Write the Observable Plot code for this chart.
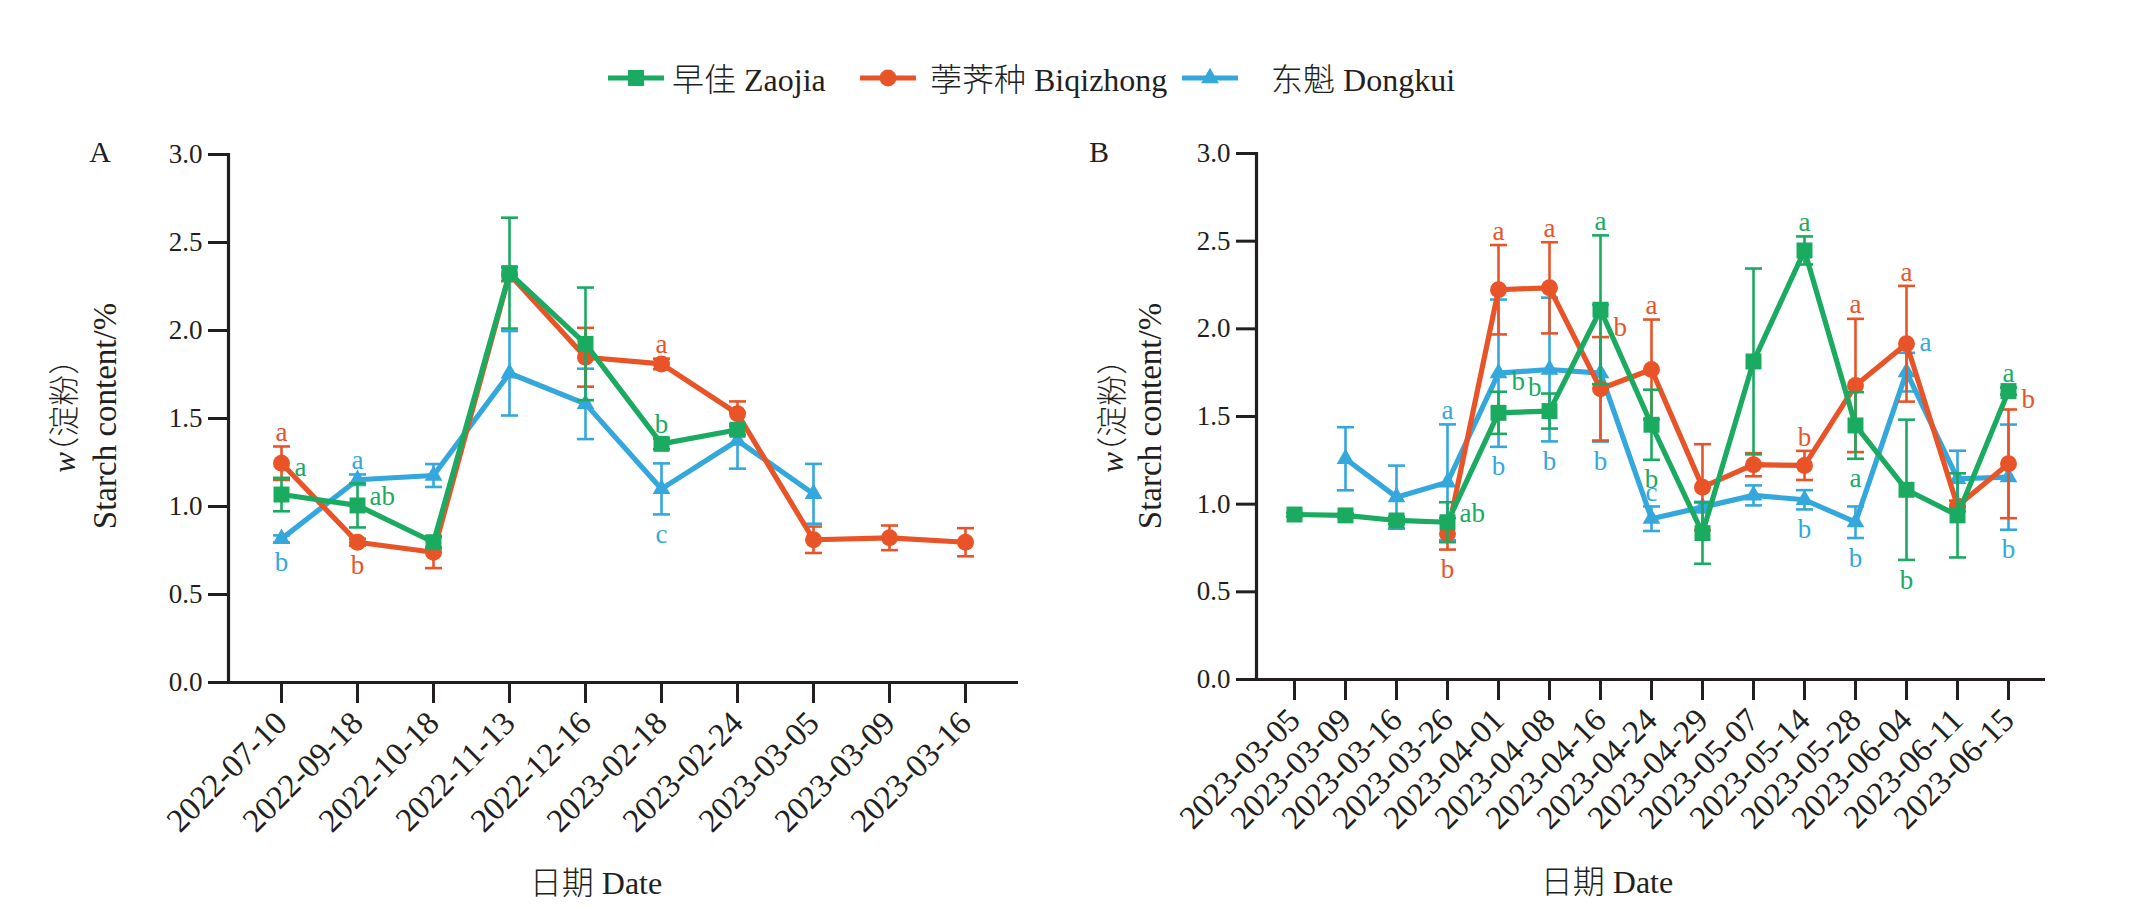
<!DOCTYPE html>
<html><head><meta charset="utf-8">
<script src="https://cdn.jsdelivr.net/npm/d3@7"></script>
<script src="https://cdn.jsdelivr.net/npm/@observablehq/plot@0.6"></script>
<style>
body{margin:0;background:#fff;}
#root{position:relative;width:2133px;height:907px;overflow:hidden;font-family:"Liberation Serif","Noto Sans CJK SC",serif;color:#231f20;}
.abs{position:absolute;white-space:nowrap;line-height:1;font-family:"Liberation Serif","Noto Sans CJK SC",serif;}
.vert{writing-mode:vertical-rl;text-orientation:sideways;transform:translate(-50%,-50%) rotate(180deg);}
.ctr{transform:translate(-50%,-50%);}
.cjk{font-family:"Noto Sans CJK SC",sans-serif;font-weight:300;}
.halt{font-feature-settings:"halt" 1;}
#root svg{position:absolute;top:0;overflow:visible;}
</style></head><body><div id="root"></div>
<script>
// ---------- data ----------
const datesA = ["2022-07-10","2022-09-18","2022-10-18","2022-11-13","2022-12-16","2023-02-18","2023-02-24","2023-03-05","2023-03-09","2023-03-16"];
const zaojiaA    = [1.068, 1.006, 0.797, 2.326, 1.924, 1.356, 1.436, null, null, null];
const zaojiaErrA = [0.095, 0.125, 0.03, 0.315, 0.32, 0.03, 0.03, null, null, null];
const biqiA      = [1.246, 0.797, 0.74, 2.32, 1.848, 1.81, 1.527, 0.811, 0.822, 0.797];
const biqiErrA   = [0.095, 0.02, 0.09, 0.04, 0.167, 0.03, 0.07, 0.075, 0.07, 0.08];
const dongA      = [0.816, 1.152, 1.176, 1.757, 1.583, 1.10, 1.375, 1.072, null, null];
const dongErrA   = [0.02, 0.03, 0.065, 0.24, 0.20, 0.145, 0.16, 0.17, null, null];

const datesB = ["2023-03-05","2023-03-09","2023-03-16","2023-03-26","2023-04-01","2023-04-08","2023-04-16","2023-04-24","2023-04-29","2023-05-07","2023-05-14","2023-05-28","2023-06-04","2023-06-11","2023-06-15"];
const zaojiaB    = [0.941, 0.936, 0.907, 0.897, 1.521, 1.531, 2.109, 1.453, 0.835, 1.814, 2.447, 1.449, 1.082, 0.936, 1.645];
const zaojiaErrB = [0.01, 0.01, 0.02, 0.114, 0.12, 0.10, 0.424, 0.20, 0.175, 0.53, 0.08, 0.19, 0.40, 0.24, 0.02];
const biqiB      = [null, null, null, 0.831, 2.223, 2.234, 1.658, 1.768, 1.097, 1.225, 1.221, 1.677, 1.915, 0.99, 1.23];
const biqiErrB   = [null, null, null, 0.09, 0.255, 0.26, 0.295, 0.285, 0.245, 0.066, 0.083, 0.38, 0.33, 0.03, 0.31];
const dongB      = [null, 1.259, 1.04, 1.125, 1.747, 1.768, 1.747, 0.917, 0.983, 1.05, 1.025, 0.897, 1.753, 1.145, 1.154];
const dongErrB   = [null, 0.18, 0.18, 0.33, 0.42, 0.41, 0.39, 0.07, 0.03, 0.057, 0.055, 0.09, 0.11, 0.16, 0.30];

// significance letters: [date, variety, letter, placement]
const lettersA = [
  ["2022-07-10","Biqizhong","a","top"],["2022-07-10","Zaojia","a","upright"],["2022-07-10","Dongkui","b","bottom"],
  ["2022-09-18","Dongkui","a","top"],["2022-09-18","Zaojia","ab","right"],["2022-09-18","Biqizhong","b","bottom"],
  ["2023-02-18","Biqizhong","a","top"],["2023-02-18","Zaojia","b","top"],["2023-02-18","Dongkui","c","bottom"]
];
const lettersB = [
  ["2023-03-26","Dongkui","a","top"],["2023-03-26","Zaojia","ab","right"],["2023-03-26","Biqizhong","b","bottom"],
  ["2023-04-01","Biqizhong","a","top"],["2023-04-01","Zaojia","b","upright"],["2023-04-01","Dongkui","b","bottom"],
  ["2023-04-08","Biqizhong","a","top"],["2023-04-08","Zaojia","b","upleft"],["2023-04-08","Dongkui","b","bottom"],
  ["2023-04-16","Zaojia","a","top"],["2023-04-16","Biqizhong","b","upright"],["2023-04-16","Dongkui","b","bottom"],
  ["2023-04-24","Biqizhong","a","top"],["2023-04-24","Dongkui","c","top"],["2023-04-24","Zaojia","b","bottom"],
  ["2023-05-14","Zaojia","a","top"],["2023-05-14","Biqizhong","b","top"],["2023-05-14","Dongkui","b","bottom"],
  ["2023-05-28","Biqizhong","a","top"],["2023-05-28","Zaojia","a","bottom"],["2023-05-28","Dongkui","b","bottom"],
  ["2023-06-04","Biqizhong","a","top"],["2023-06-04","Dongkui","a","upright"],["2023-06-04","Zaojia","b","bottom"],
  ["2023-06-15","Zaojia","a","top"],["2023-06-15","Biqizhong","b","upright"],["2023-06-15","Dongkui","b","bottom"]
];

const varieties = ["Zaojia","Biqizhong","Dongkui"];
const legendNames = ["早佳 Zaojia","荸荠种 Biqizhong","东魁 Dongkui"];
const colors = {Zaojia:"#1aaa60", Biqizhong:"#e85428", Dongkui:"#34a8dc"};
const symbols = {Zaojia:"square", Biqizhong:"circle", Dongkui:"triangle"};
const radii = {Zaojia:9, Biqizhong:8.5, Dongkui:6.6};
const yTicks = [0, 0.5, 1.0, 1.5, 2.0, 2.5, 3.0];
const FONT = '"Liberation Serif","Noto Sans CJK SC",serif';
const INK = "#231f20";

// ---------- helpers ----------
const cap = {draw(ctx, size){ const w = Math.sqrt(size/Math.PI); ctx.moveTo(-w,0); ctx.lineTo(w,0); }};

function rowsFor(dates, vals, errs, variety){
  return dates.map((d,i)=>({date:d, variety, v:vals[i], e:errs[i]})).filter(r=>r.v!=null);
}

function panel(dates, table, letters, W, ml, mr, mt, mb){
  const marks = [];
  for (const k of ["Dongkui","Biqizhong","Zaojia"]) {
    const d = table[k]; const c = colors[k];
    marks.push(Plot.ruleX(d, {x:"date", y1:r=>r.v-r.e, y2:r=>r.v+r.e, stroke:c, strokeWidth:2.6}));
    marks.push(Plot.dot(d, {x:"date", y:r=>r.v+r.e, symbol:cap, r:8.5, stroke:c, strokeWidth:2.6, fill:"none"}));
    marks.push(Plot.dot(d, {x:"date", y:r=>r.v-r.e, symbol:cap, r:8.5, stroke:c, strokeWidth:2.6, fill:"none"}));
    marks.push(Plot.line(d, {x:"date", y:"v", stroke:c, strokeWidth:5.2}));
    marks.push(Plot.dot(d, {x:"date", y:"v", symbol:symbols[k], r:radii[k], fill:c, stroke:"none"}));
  }
  const lookup = {};
  for (const k of varieties) for (const r of table[k]) lookup[r.date+"|"+k] = r;
  const place = {
    top:{y:r=>r.v+r.e, dx:0, dy:-14, anchor:"middle"},
    bottom:{y:r=>r.v-r.e, dx:0, dy:20, anchor:"middle"},
    right:{y:r=>r.v, dx:12, dy:-9, anchor:"start"},
    upright:{y:r=>r.v+r.e, dx:13, dy:-10, anchor:"start"},
    upleft:{y:r=>r.v+r.e, dx:-8, dy:-6, anchor:"end"}
  };
  for (const p of Object.keys(place)) for (const k of varieties) {
    const L = letters.filter(l=>l[3]===p && l[1]===k).map(l=>({...lookup[l[0]+"|"+k], t:l[2]}));
    if (!L.length) continue;
    const o = place[p];
    marks.push(Plot.text(L, {x:"date", y:o.y, text:"t", fill:colors[k], dx:o.dx, dy:o.dy, textAnchor:o.anchor, fontSize:27, fontFamily:FONT}));
  }
  marks.push(Plot.axisY({ticks:yTicks, tickFormat:d3.format(".1f"), tickSize:20, tickPadding:6, fontSize:27, strokeWidth:3, label:null, color:INK}));
  marks.push(Plot.axisX({tickSize:21, tickRotate:-45, tickPadding:14, fontSize:33, strokeWidth:3, label:null, color:INK}));
  marks.push(Plot.frame({anchor:"left", strokeWidth:3.2, stroke:INK}));
  marks.push(Plot.ruleY([0], {strokeWidth:3.2, stroke:INK}));
  return Plot.plot({
    width:W, height:907, marginLeft:ml, marginRight:mr, marginTop:mt, marginBottom:mb,
    x:{type:"point", domain:dates, padding:0.66},
    y:{domain:[0,3]},
    style:{fontFamily:FONT, background:"transparent", color:INK, overflow:"visible"},
    marks
  });
}

function tableFor(dates, z, ze, b, be, d, de){
  return {Zaojia:rowsFor(dates,z,ze,"Zaojia"), Biqizhong:rowsFor(dates,b,be,"Biqizhong"), Dongkui:rowsFor(dates,d,de,"Dongkui")};
}

const root = document.getElementById("root");
const svgA = panel(datesA, tableFor(datesA, zaojiaA, zaojiaErrA, biqiA, biqiErrA, dongA, dongErrA), lettersA, 1060, 228, 42, 154, 225);
svgA.style.left = "0px";
root.appendChild(svgA);
const svgB = panel(datesB, tableFor(datesB, zaojiaB, zaojiaErrB, biqiB, biqiErrB, dongB, dongErrB), lettersB, 1073, 196, 88, 153, 228);
svgB.style.left = "1060px";
root.appendChild(svgB);

// ---------- text ----------
function addText(html, x, y, size, cls){
  const el = document.createElement("div");
  el.className = "abs " + cls;
  el.style.left = x + "px"; el.style.top = y + "px"; el.style.fontSize = size + "px";
  el.innerHTML = html;
  root.appendChild(el);
  return el;
}
const wLabel = '<i>w</i><span class="cjk halt">（淀粉）</span>';
addText("A", 100, 152, 30, "ctr");
addText("B", 1099, 152, 30, "ctr");
addText(wLabel, 63, 416, 31, "vert");
addText("Starch content/%", 105, 416, 33, "vert");
addText(wLabel, 1111, 416, 31, "vert");
addText("Starch content/%", 1150, 416, 33, "vert");
addText('<span class="cjk">日期</span> Date', 596, 881, 32, "ctr");
addText('<span class="cjk">日期</span> Date', 1607, 880, 32, "ctr");

// ---------- legend ----------
const legendX = [608, 860, 1182];
const legendTextX = [672, 930, 1271];
varieties.forEach((k,i)=>{
  const sym = d3.symbol(k==="Zaojia"?d3.symbolSquare:k==="Biqizhong"?d3.symbolCircle:d3.symbolTriangle, Math.PI*radii[k]*radii[k])();
  const sw = document.createElement("div");
  sw.className = "abs";
  sw.style.left = legendX[i]+"px"; sw.style.top = (78-15)+"px";
  sw.innerHTML = `<svg width="56" height="30" style="position:static"><line x1="0" x2="56" y1="15" y2="15" stroke="${colors[k]}" stroke-width="5.2"/><path d="${sym}" transform="translate(28,15)" fill="${colors[k]}"/></svg>`;
  root.appendChild(sw);
  const parts = legendNames[i].split(" ");
  const t = document.createElement("div");
  t.className = "abs";
  t.style.left = legendTextX[i]+"px"; t.style.top = "78px"; t.style.fontSize = "32px";
  t.style.transform = "translateY(-50%)";
  t.innerHTML = `<span class="cjk">${parts[0]}</span> ${parts[1]}`;
  root.appendChild(t);
});
</script></body></html>
